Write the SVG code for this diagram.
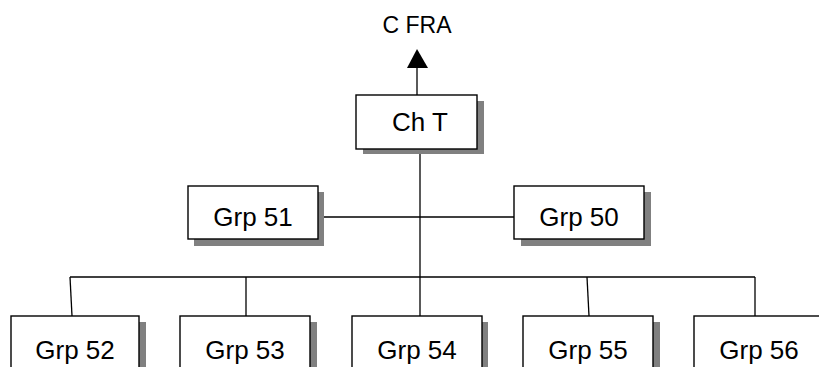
<svg xmlns="http://www.w3.org/2000/svg" width="819" height="367" viewBox="0 0 819 367">
<style>
.box{fill:#fff;stroke:#000;stroke-width:1.4}
.sh{fill:#808080}
.t{font-family:"Liberation Sans",Arial,sans-serif;font-size:26px;fill:#000;text-anchor:middle}
.ln{stroke:#000;stroke-width:1.3;fill:none}
</style>
<rect width="819" height="367" fill="#fff"/>
<g id="connectors">
<line class="ln" x1="417" y1="95" x2="417" y2="66"/>
<polygon points="417,49 407,68 428,68" fill="#000"/>
<line class="ln" x1="420" y1="154" x2="420" y2="316"/>
<line class="ln" x1="318" y1="217" x2="514" y2="217"/>
<line class="ln" x1="70" y1="277" x2="755" y2="277"/>
<line class="ln" x1="70" y1="277" x2="72" y2="316"/>
<line class="ln" x1="246" y1="277" x2="246" y2="316"/>
<line class="ln" x1="587" y1="277" x2="589" y2="316"/>
<line class="ln" x1="755" y1="277" x2="755" y2="316"/>
</g>
<g id="cfra"><text class="t" x="417" y="33" style="font-size:23px">C FRA</text></g>
<g id="chT"><rect class="sh" x="363" y="101" width="121" height="53"/><rect class="box" x="356" y="95" width="121" height="54"/><text class="t" x="420" y="131">Ch T</text></g>
<g id="grp51"><rect class="sh" x="194" y="192" width="130" height="54"/><rect class="box" x="188" y="186" width="130" height="53"/><text class="t" x="253" y="226">Grp 51</text></g>
<g id="grp50"><rect class="sh" x="521" y="192" width="130" height="54"/><rect class="box" x="514" y="186" width="130" height="53"/><text class="t" x="579" y="226">Grp 50</text></g>
<g id="grp52"><rect class="sh" x="18" y="322" width="128" height="60"/><rect class="box" x="11" y="316" width="128" height="60"/><text class="t" x="75" y="359">Grp 52</text></g>
<g id="grp53"><rect class="sh" x="187" y="322" width="130" height="60"/><rect class="box" x="180" y="316" width="130" height="60"/><text class="t" x="245" y="359">Grp 53</text></g>
<g id="grp54"><rect class="sh" x="358" y="322" width="130" height="60"/><rect class="box" x="352" y="316" width="130" height="60"/><text class="t" x="417" y="359">Grp 54</text></g>
<g id="grp55"><rect class="sh" x="530" y="322" width="130" height="60"/><rect class="box" x="523" y="316" width="130" height="60"/><text class="t" x="588" y="359">Grp 55</text></g>
<g id="grp56"><rect class="sh" x="701" y="322" width="130" height="60"/><rect class="box" x="694" y="316" width="130" height="60"/><text class="t" x="759" y="359">Grp 56</text></g>
</svg>
